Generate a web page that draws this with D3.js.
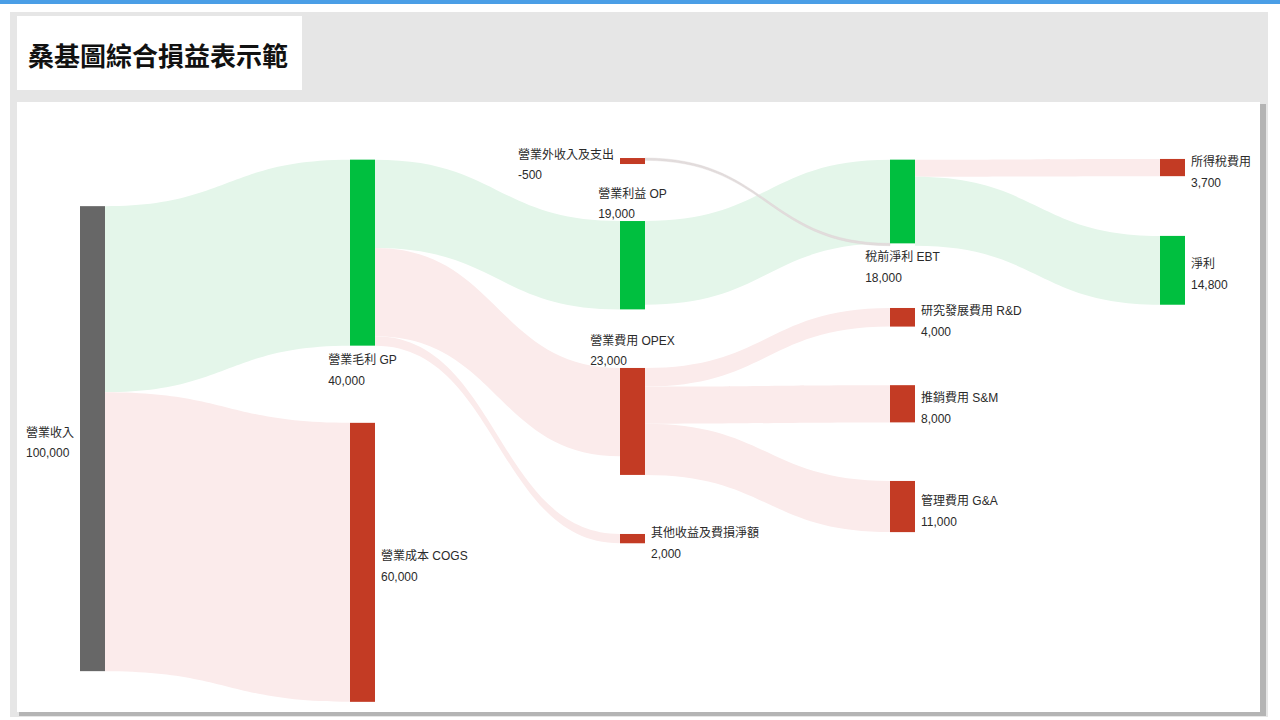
<!DOCTYPE html>
<html>
<head>
<meta charset="utf-8">
<script src="https://cdn.jsdelivr.net/npm/d3@7"></script>
<style>
  html, body { margin: 0; padding: 0; background: #ffffff; }
  svg { display: block; }
  text { font-family: "Liberation Sans", Arial, "Noto Sans CJK TC", sans-serif; }
  .title { font-family: "Noto Sans CJK TC", sans-serif; }
</style>
</head>
<body>
<svg id="chart" width="1280" height="720"></svg>
<script>
// ---------------- DATA ----------------
const titleText = "桑基圖綜合損益表示範";

const nodeNames  = ["營業收入", "營業毛利 GP", "營業成本 COGS", "營業外收入及支出", "營業利益 OP",
                    "營業費用 OPEX", "其他收益及費損淨額", "稅前淨利 EBT", "研究發展費用 R&D",
                    "推銷費用 S&M", "管理費用 G&A", "所得稅費用", "淨利"];
const nodeValues = [100000, 40000, 60000, -500, 19000, 23000, 2000, 18000, 4000, 8000, 11000, 3700, 14800];
const nodeColumn = [0, 1, 1, 2, 2, 2, 2, 3, 3, 3, 3, 4, 4];
const nodeKind   = ["base", "gain", "loss", "loss", "gain", "loss", "loss", "gain", "loss", "loss", "loss", "loss", "gain"];

const linkSource = [0, 0, 1, 1, 1, 4, 3, 5, 5, 5, 7, 7];
const linkTarget = [1, 2, 4, 5, 6, 7, 7, 8, 9, 10, 11, 12];
const linkValue  = [40000, 60000, 19000, 19000, 2000, 18000, 500, 4000, 8000, 11000, 3700, 14800];
const linkKind   = ["gain", "loss", "gain", "loss", "loss", "gain", "thin", "loss", "loss", "loss", "loss", "gain"];

// ---------------- LAYOUT (kept separate from data) ----------------
// vertical offset of each node's top, expressed in value units on the flow scale
const nodeTop   = [11000, 1000, 57600, 650, 14200, 45800, 81500, 1000, 32900, 49500, 70100, 850, 17400];
const labelSide = ["left", "below", "right", "left", "above", "above", "right", "below", "right", "right", "right", "right", "right"];

const nodeColor = { base: "#676767", gain: "#00bf3f", loss: "#c33b24" };
const linkColor = { gain: "#e4f6ea", loss: "#fbebeb", thin: "#e2dcdc" };

const svg = d3.select("#chart");

// ---------------- FRAME ----------------
svg.append("rect").attr("x", 0).attr("y", 0).attr("width", 1280).attr("height", 4).attr("fill", "#4a9ee6");
svg.append("rect").attr("x", 10).attr("y", 12).attr("width", 1258).attr("height", 705).attr("fill", "#e6e6e6");
svg.append("rect").attr("x", 17).attr("y", 16).attr("width", 285).attr("height", 74).attr("fill", "#ffffff");
svg.append("text").attr("class", "title").attr("x", 28).attr("y", 54).attr("dominant-baseline", "central")
  .attr("font-size", 26).attr("font-weight", "bold").attr("fill", "#111").text(titleText);
svg.append("rect").attr("x", 19).attr("y", 104).attr("width", 1247).attr("height", 612).attr("fill", "#b4b4b4");
svg.append("rect").attr("x", 17).attr("y", 102).attr("width", 1243).attr("height", 610).attr("fill", "#ffffff");

// ---------------- SCALES ----------------
const nodeWidth = 25;
const x = d3.scaleLinear().domain([0, 4]).range([80, 1160]);
const y = d3.scaleLinear().domain([0, 120000]).range([155, 155 + 558]);
const k = (y(1000) - y(0)) / 1000; // px per unit

const nodes = nodeNames.map((name, i) => {
  const h = Math.max(Math.abs(nodeValues[i]) * k, 6);
  const y0 = y(nodeTop[i]);
  return { i, name, value: nodeValues[i], x0: x(nodeColumn[i]), x1: x(nodeColumn[i]) + nodeWidth,
           y0, y1: y0 + h, outOff: 0, inOff: 0 };
});

const links = linkSource.map((s, i) => {
  const src = nodes[s], tgt = nodes[linkTarget[i]];
  const w = linkValue[i] * k;
  const sy0 = src.y0 + src.outOff; src.outOff += w;
  const ty0 = tgt.y0 + tgt.inOff; tgt.inOff += w;
  return { kind: linkKind[i], sx: src.x1, tx: tgt.x0, sy0, sy1: sy0 + w, ty0, ty1: ty0 + w };
});

function bandPath(l) {
  const p = d3.path();
  const xm = (l.sx + l.tx) / 2;
  p.moveTo(l.sx, l.sy0);
  p.bezierCurveTo(xm, l.sy0, xm, l.ty0, l.tx, l.ty0);
  p.lineTo(l.tx, l.ty1);
  p.bezierCurveTo(xm, l.ty1, xm, l.sy1, l.sx, l.sy1);
  p.closePath();
  return p.toString();
}

// ---------------- LINKS ----------------
svg.append("g").selectAll("path").data(links).join("path")
  .attr("d", bandPath)
  .attr("fill", d => linkColor[d.kind])
  .attr("stroke", d => d.kind === "thin" ? "#dcd3d3" : "none")
  .attr("stroke-width", d => d.kind === "thin" ? 0.4 : 0);

// ---------------- NODES ----------------
svg.append("g").selectAll("rect").data(nodes).join("rect")
  .attr("x", d => d.x0).attr("y", d => d.y0)
  .attr("width", nodeWidth).attr("height", d => d.y1 - d.y0)
  .attr("fill", d => nodeColor[nodeKind[d.i]]);

// ---------------- LABELS ----------------
const fmt = d3.formatLocale({ decimal: ".", thousands: ",", grouping: [3], currency: ["", ""], minus: "-" }).format(",");
const lg = svg.append("g").attr("font-size", 12).attr("fill", "#2a2a2a");
nodes.forEach(d => {
  const g = lg.append("g");
  const t1 = g.append("text").attr("dominant-baseline", "central").text(d.name);
  const t2 = g.append("text").attr("dominant-baseline", "central").text(fmt(d.value));
  const w1 = t1.node().getComputedTextLength();
  const w2 = t2.node().getComputedTextLength();
  const cy = (d.y0 + d.y1) / 2, cx = (d.x0 + d.x1) / 2;
  let tx, y1, y2;
  const side = labelSide[d.i];
  if (side === "right") { tx = d.x1 + 6; y1 = cy - 6; y2 = cy + 15; }
  else if (side === "left") { tx = d.x0 - 6 - Math.max(w1, w2); y1 = cy - 6; y2 = cy + 14; }
  else if (side === "above") { tx = cx - w1 / 2; y1 = d.y0 - 27; y2 = d.y0 - 7; }
  else { tx = cx - w1 / 2; y1 = d.y1 + 14; y2 = d.y1 + 35; }
  t1.attr("x", tx).attr("y", y1);
  t2.attr("x", tx).attr("y", y2);
});
</script>
</body>
</html>
